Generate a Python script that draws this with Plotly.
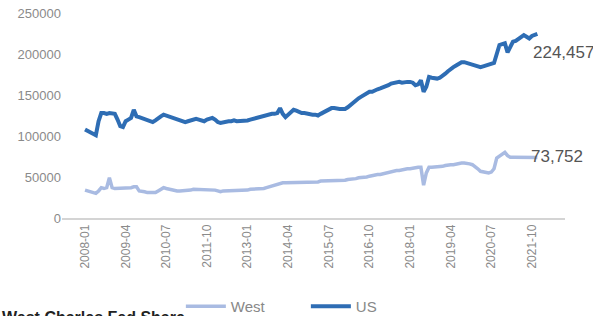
import plotly.graph_objects as go

tick_labels = ["2008-01", "2009-04", "2010-07", "2011-10", "2013-01", "2014-04",
               "2015-07", "2016-10", "2018-01", "2019-04", "2020-07", "2021-10"]
tick_index = [0, 15, 30, 45, 60, 75, 90, 105, 120, 135, 150, 165]

# monthly values, 2008-01 .. 2021-12 (thousands)
us_k = [
    108, 106, 104, 102, 101, 118, 128, 128, 127, 128, 128, 127,
    120, 112, 111, 118, 120, 122, 132, 124, 123, 122, 121, 120,
    118, 117, 119, 122, 124, 126, 125, 123, 122, 121, 120, 119,
    118, 117, 118, 119, 120, 121, 120, 119, 118, 120, 121, 122,
    120, 117, 116, 117, 118, 118, 118, 119, 118, 118, 119, 119,
    119, 120, 121, 122, 122, 123, 124, 125, 126, 127, 127, 128,
    134, 127, 123, 126, 129, 132, 131, 129, 128, 128, 127, 127,
    126, 126, 125, 127, 129, 131, 133, 134, 134, 133, 133, 133,
    133, 135, 138, 141, 144, 146, 148, 150, 152, 154, 154, 156,
    157, 158, 159, 160, 162, 164, 165, 165, 166, 165, 166, 166,
    166, 165, 162, 163, 168, 154, 160, 172, 171, 170, 170, 171,
    173, 176, 179, 182, 184, 186, 188, 190, 190, 189, 189, 188,
    186, 185, 184, 185, 186, 187, 189, 189, 200, 211, 212, 213,
    202, 208, 215, 216, 218, 220, 223, 221, 219, 222, 223, 224.457,
]
west_k = [
    34, 33, 32, 31, 30, 33, 37, 36, 37, 49, 37, 36,
    36, 36, 37, 37, 36, 37, 38, 38, 33, 33, 32, 31,
    31, 30, 31, 33, 35, 37, 36, 35, 34, 34, 33, 33,
    33, 34, 34, 34, 35, 35, 35, 34, 34, 35, 35, 35,
    34, 33, 32, 33, 33, 33, 34, 34, 34, 34, 34, 34,
    34, 35, 35, 35, 36, 36, 36, 37, 38, 39, 41, 42,
    43, 43, 43, 43, 43, 44, 44, 44, 44, 44, 44, 44,
    44, 44, 44, 45, 45, 45, 45, 46, 46, 46, 46, 46,
    46, 47, 47, 48, 48, 49, 49, 50, 50, 51, 52, 52,
    53, 53, 54, 55, 56, 56, 57, 58, 58, 59, 59, 60,
    60, 61, 61, 62, 62, 40, 55, 62, 62, 62, 63, 63,
    63, 64, 65, 65, 65, 66, 66, 67, 67, 67, 66, 65,
    63, 60, 57, 56, 55, 55, 56, 60, 73, 75, 77, 80,
    76, 74, 74, 74, 74, 73, 73, 74, 74, 73, 74, 73.752,
]
us = [round(v * 1000) for v in us_k]
west = [round(v * 1000) for v in west_k]
idx = list(range(len(us)))

fig = go.Figure()
fig.add_trace(go.Scatter(x=idx, y=west, mode="lines", name="West",
                         line=dict(color="#a9bbe2", width=3.5)))
fig.add_trace(go.Scatter(x=idx, y=us, mode="lines", name="US",
                         line=dict(color="#2e6db4", width=4)))

fig.add_annotation(x=164.5, y=202000, text="224,457", showarrow=False,
                   xanchor="left", yanchor="middle",
                   font=dict(size=17, color="#555555", family="Liberation Sans"))
fig.add_annotation(x=164, y=74500, text="73,752", showarrow=False,
                   xanchor="left", yanchor="middle",
                   font=dict(size=17, color="#555555", family="Liberation Sans"))
fig.add_annotation(x=0, y=-0.432, xref="paper", yref="paper", xanchor="left",
                   yanchor="top", text="<b>West Charles Fed Share</b>",
                   showarrow=False, xshift=-62,
                   font=dict(size=16, color="#222222", family="Liberation Sans"))

fig.update_layout(
    width=593, height=316,
    margin=dict(l=62, r=28, t=13, b=98, autoexpand=False),
    paper_bgcolor="white", plot_bgcolor="white",
    font=dict(family="Liberation Sans", color="#888888"),
    showlegend=True,
    legend=dict(orientation="h", xref="container", yref="container",
                x=0.305, xanchor="left", y=0.03, yanchor="middle",
                entrywidth=70, itemwidth=40,
                font=dict(size=15, color="#888888"), tracegroupgap=0),
    xaxis=dict(range=[-8.5, 177.2], tickmode="array", tickvals=tick_index,
               ticktext=tick_labels, tickangle=-90, showgrid=False,
               zeroline=False, showline=True, linecolor="#d4d4d4", linewidth=1.5,
               tickfont=dict(size=12, color="#8a8a8a"), ticks="", automargin=False),
    yaxis=dict(range=[0, 250000], tickvals=[0, 50000, 100000, 150000, 200000, 250000],
               tickformat="d", showgrid=False, zeroline=False, showline=False,
               tickfont=dict(size=13, color="#8a8a8a"), ticks="", automargin=False),
)

fig.write_html("out.html", config={"displayModeBar": False},
               post_script="document.body.style.margin='0';")
